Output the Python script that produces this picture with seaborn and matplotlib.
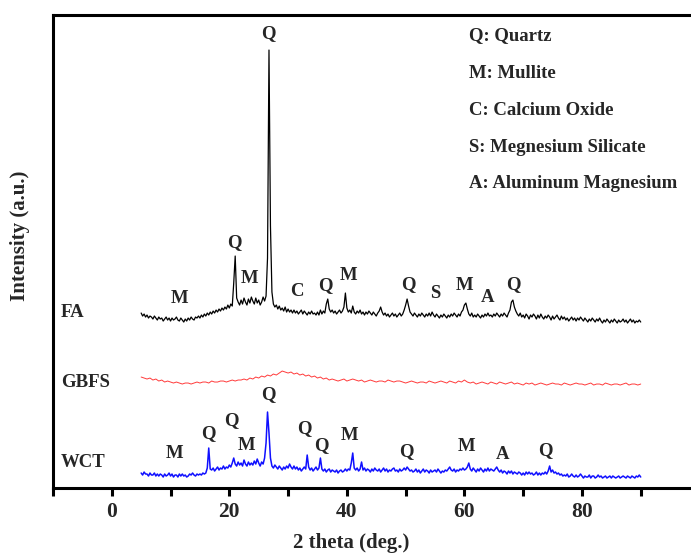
import numpy as np
import pandas as pd
import matplotlib
matplotlib.use("Agg")
import matplotlib.pyplot as plt
from matplotlib.ticker import MultipleLocator
import seaborn as sns

# ---------------- data ----------------
# sampling grid of the diffraction scans (2 theta, deg.)
fine_start, fine_stop, fine_step = 5.0, 90.0, 0.25
coarse_step = 0.5
fine_x = np.arange(fine_start, fine_stop + 1e-9, fine_step)
coarse_x = np.arange(fine_start, fine_stop + 1e-9, coarse_step)

fa_intensity = [
    175,172,174,171, 173,170,172,171, 169,172,170,168, 171,169,170,167,
    169,171,168,170, 167,170,168,169, 171,168,167,170, 168,166,169,167,
    170,168,171,169, 168,171,170,172, 170,173,171,174, 172,175,173,176,
    174,177,175,178, 176,179,177,180, 178,181,179,183, 180,184,182,205,
    232,190,186,183, 188,184,190,186, 183,189,185,191, 187,184,190,185,
    188,183,186,191, 187,192,230,438, 262,196,184,181, 183,179,182,178,
    180,177,181,176, 179,176,178,175, 178,175,177,174, 176,178,174,177,
    175,173,176,174, 177,174,175,173, 176,173,178,174, 177,175,184,189,
    179,176,178,175, 177,174,176,178, 175,177,181,195, 180,176,178,175,
    182,176,174,177, 175,178,174,176, 173,176,174,177, 175,173,176,174,
    172,175,177,181, 176,173,175,172, 174,171,173,175, 172,174,171,173,
    175,172,174,178, 183,189,182,176, 174,172,175,173, 171,174,172,175,
    173,171,174,172, 175,172,176,173, 171,174,172,170, 173,171,174,172,
    170,173,171,174, 172,175,173,171, 174,172,176,178, 183,185,179,174,
    172,175,171,173, 171,174,172,170, 173,171,174,172, 175,172,173,171,
    174,172,175,173, 171,174,172,175, 173,171,175,178, 186,188,181,177,
    174,172,175,171, 173,170,174,172, 169,173,171,174, 172,169,173,170,
    174,171,169,172, 170,173,171,168, 172,169,171,173, 170,168,172,169,
    171,168,170,167, 169,171,168,170, 167,170,168,171, 169,167,170,168,
    166,169,167,170, 168,166,169,167, 170,167,165,168, 166,169,167,165,
    168,166,169,167, 165,168,166,167, 169,166,168,165, 167,169,166,168,
    165,167,166,168, 166,
]

gbfs_intensity = [
    111,110, 109,110, 108,109, 107,108, 106,107, 106,105, 106,105, 104,105,
    105,104, 105,106, 105,106, 106,105, 107,106, 106,107, 107,106, 107,108,
    107,108, 108,109, 108,110, 109,111, 110,112, 111,113, 112,114, 113,115,
    117,116, 115,116, 114,115, 113,114, 112,113, 111,112, 110,111, 109,110,
    108,109, 108,107, 108,109, 107,108, 109,108, 107,108, 106,107, 108,107,
    106,107, 107,106, 108,107, 106,107, 107,106, 105,106, 107,106, 105,106,
    106,105, 107,106, 105,106, 107,106, 105,107, 106,105, 107,106, 108,106,
    105,106, 104,105, 106,105, 104,106, 105,104, 106,105, 104,105, 106,104,
    105,104, 103,105, 104,105, 103,104, 105,104, 103,104, 105,104, 104,103,
    105,104, 103,104, 105,104, 104,103, 104,105, 103,104, 104,103, 105,104,
    103,104, 104,103, 104,105, 103,104, 104,103, 104,
]

wct_intensity = [
    15,13,16,14, 14,12,15,13, 13,15,12,14, 12,14,13,11, 14,12,13,15,
    12,14,11,13, 13,11,14,12, 14,12,13,11, 12,14,13,15, 13,12,14,13,
    14,13,15,14, 15,20,40,19, 18,20,17,19, 21,18,20,19, 22,19,21,20,
    23,21,25,30, 24,22,26,23, 25,22,28,24, 22,26,23,25, 23,27,24,29,
    25,22,26,24, 30,45,76,55, 30,22,20,23, 21,19,22,20, 18,21,19,22,
    20,24,21,19, 22,19,21,18, 20,17,19,21, 19,33,21,18, 20,17,19,21,
    18,20,30,19, 17,19,16,18, 19,16,18,17, 16,18,15,17, 18,16,17,19,
    17,19,18,25, 35,20,18,20, 17,19,26,18, 20,17,19,18, 16,19,17,20,
    18,17,19,16, 18,20,17,19, 16,18,17,19, 20,17,18,16, 19,17,18,20,
    18,21,19,17, 18,16,17,19, 16,18,15,17, 19,16,18,17, 15,18,16,17,
    18,16,19,17, 15,17,16,18, 17,19,21,18, 17,19,16,18, 17,19,18,20,
    18,19,21,25, 19,17,20,18, 16,19,17,20, 18,16,19,17, 20,17,19,18,
    17,19,21,18, 16,18,15,17, 16,14,17,15, 17,14,16,15, 14,16,15,13,
    15,13,16,14, 16,14,15,13, 14,16,13,15, 13,15,14,16, 14,17,22,16,
    18,15,16,14, 15,13,14,12, 13,12,14,11, 12,14,12,11, 13,11,12,14,
    12,10,12,11, 11,13,10,12, 12,10,11,13, 11,12,10,11, 12,10,11,12,
    10,12,11,10, 11,12,10,11, 12,11,10,12, 11,10,12,11, 10,12,11,13,
    11,
]

# phase labels above the peaks
fa_peak_labels = ["M", "Q", "M", "Q", "C", "Q", "M", "Q", "S", "M", "A", "Q"]
fa_peak_x = [11.6, 20.9, 23.5, 26.6, 31.5, 36.4, 40.3, 50.4, 55.0, 60.1, 64.0, 68.4]
fa_peak_y = [190, 246, 210, 455, 197, 202, 213, 203, 195, 203, 191, 203]

wct_peak_labels = ["M", "Q", "Q", "M", "Q", "Q", "Q", "M", "Q", "M", "A", "Q"]
wct_peak_x = [10.7, 16.5, 20.4, 22.9, 26.6, 32.7, 35.7, 40.5, 50.2, 60.3, 66.5, 73.7]
wct_peak_y = [35, 54, 67, 43, 93, 59, 42, 53, 36, 42, 34, 37]

sample_names = ["FA", "GBFS", "WCT"]
sample_label_y = [176, 106, 26]

phase_key = ["Q: Quartz", "M: Mullite", "C: Calcium Oxide",
             "S: Megnesium Silicate", "A: Aluminum Magnesium"]
phase_key_y = [453, 415, 378, 341, 305]

x_tick_values = [0, 20, 40, 60, 80]

# ---------------- plot ----------------
sns.set_theme(style="white")
plt.rcParams['font.family'] = ['Liberation Serif', 'DejaVu Serif']
plt.rcParams['font.weight'] = 'bold'

fig = plt.figure(figsize=(6.91, 5.53), dpi=100)
ax = fig.add_axes([0.0767, 0.1175, 0.9356, 0.8553])

sns.lineplot(x=fine_x, y=fa_intensity, ax=ax, color="black", linewidth=0.9,
             estimator=None, sort=False)
sns.lineplot(x=coarse_x, y=gbfs_intensity, ax=ax, color="#ff3b3b", linewidth=0.7,
             estimator=None, sort=False)
sns.lineplot(x=fine_x, y=wct_intensity, ax=ax, color="#1010ff", linewidth=1.1,
             estimator=None, sort=False)

ax.set_xlim(-10, 100)
ax.set_ylim(0, 473)
ax.set_yticks([])
ax.xaxis.set_major_locator(MultipleLocator(20))
ax.xaxis.set_minor_locator(MultipleLocator(10))
ax.set_xticks(x_tick_values)
ax.set_xticklabels([str(v) for v in x_tick_values], fontsize=15.5, fontweight='bold')
ax.tick_params(axis='x', which='both', direction='out', length=6, width=2.2,
               color='black', bottom=True, pad=4)
for s in ax.spines.values():
    s.set_linewidth(2.2)
    s.set_color('black')
    s.set_visible(True)

ax.set_xlabel("")
ax.set_ylabel("")
ax.text(0.461, -0.116, "2 theta (deg.)", transform=ax.transAxes, ha='center',
        va='center', fontsize=15, fontweight='bold')
ax.text(-0.051, 0.533, "Intensity (a.u.)", transform=ax.transAxes, ha='center',
        va='center', rotation=90, fontsize=15, fontweight='bold')

for lab, xv, yv in zip(fa_peak_labels, fa_peak_x, fa_peak_y):
    ax.text(xv, yv, lab, ha='center', va='center', fontsize=13.5, fontweight='bold')
for lab, xv, yv in zip(wct_peak_labels, wct_peak_x, wct_peak_y):
    ax.text(xv, yv, lab, ha='center', va='center', fontsize=13.5, fontweight='bold')

for name, yv in zip(sample_names, sample_label_y):
    ax.text(-8.7, yv, name, ha='left', va='center', fontsize=13.5, fontweight='bold')

for line, yv in zip(phase_key, phase_key_y):
    ax.text(60.8, yv, line, ha='left', va='center', fontsize=13.5, fontweight='bold')

fig.savefig("out.png", dpi=100)
